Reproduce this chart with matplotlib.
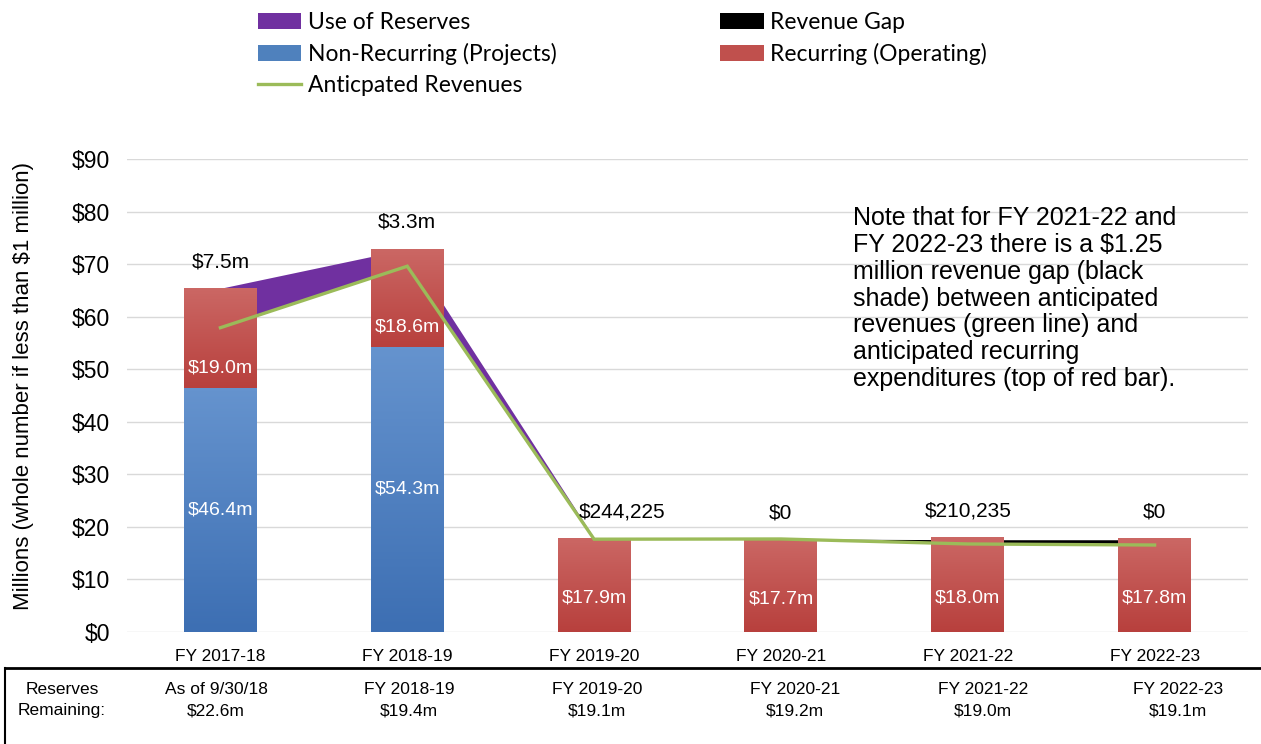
import numpy as np
import matplotlib
matplotlib.use('Agg')
import matplotlib.pyplot as plt
from matplotlib.patches import Patch
from matplotlib.lines import Line2D
from matplotlib.colors import LinearSegmentedColormap
from matplotlib import font_manager

# ---- Data ----
categories = ['FY 2017-18', 'FY 2018-19', 'FY 2019-20',
              'FY 2020-21', 'FY 2021-22', 'FY 2022-23']
non_recurring = [46.4, 54.3, 0.0, 0.0, 0.0, 0.0]
recurring = [19.0, 18.6, 17.9, 17.7, 18.0, 17.8]
revenues = [57.9, 69.6, 17.66, 17.7, 16.75, 16.55]
use_of_reserves = [7.5, 3.3, 0.244, 0.0, 0.21, 0.0]
revenue_gap = [0.0, 0.0, 0.0, 0.0, 0.6, 1.0]

recurring_labels = ['$19.0m', '$18.6m', '$17.9m', '$17.7m', '$18.0m', '$17.8m']
non_recurring_labels = ['$46.4m', '$54.3m', '', '', '', '']
top_labels = ['$7.5m', '$3.3m', '$244,225', '$0', '$210,235', '$0']

reserves_period = ['As of 9/30/18', 'FY 2018-19', 'FY 2019-20',
                   'FY 2020-21', 'FY 2021-22', 'FY 2022-23']
reserves_remaining = ['$22.6m', '$19.4m', '$19.1m', '$19.2m', '$19.0m', '$19.1m']

note = ('Note that for FY 2021-22 and\n'
        'FY 2022-23 there is a $1.25\n'
        'million revenue gap (black\n'
        'shade) between anticipated\n'
        'revenues (green line) and\n'
        'anticipated recurring\n'
        'expenditures (top of red bar).')

# ---- Fonts ----
_names = {f.name for f in font_manager.fontManager.ttflist}
MAIN = 'Liberation Sans'
NARROW = 'Liberation Sans Narrow' if 'Liberation Sans Narrow' in _names else MAIN
LEG = 'Lato' if 'Lato' in _names else MAIN
plt.rcParams['font.family'] = MAIN

# ---- Colours ----
PURPLE = '#7030A0'
GREEN = '#9BBB59'
red_cmap = LinearSegmentedColormap.from_list('r', ['#B8403D', '#CB6764'])
blue_cmap = LinearSegmentedColormap.from_list('b', ['#3D6FB3', '#6593CE'])

W, H = 1261, 744
fig = plt.figure(figsize=(W / 100, H / 100), dpi=100)
ax = fig.add_axes([127 / W, 1 - 632 / H, (1248 - 127) / W, (632 - 159) / H])

x = np.arange(len(categories))
rev = np.array(revenues)
res = np.array(use_of_reserves)
gap = np.array(revenue_gap)
nonrec = np.array(non_recurring)
rec = np.array(recurring)

# stacked areas behind the bars (base = anticipated revenues)
ax.fill_between(x, rev, rev + res, color=PURPLE, lw=0, zorder=2)
ax.fill_between(x, rev + res, rev + res + gap, color='black', lw=0, zorder=2)

width = 0.39
grad = np.linspace(0, 1, 64).reshape(-1, 1)


def gradient_bars(bars, cmap):
    for b in bars:
        if b.get_height() <= 0:
            continue
        x0, y0 = b.get_x(), b.get_y()
        im = ax.imshow(grad, extent=[x0, x0 + b.get_width(), y0, y0 + b.get_height()],
                       origin='lower', cmap=cmap, aspect='auto', zorder=3.5,
                       interpolation='bilinear')
        im.set_clip_path(b)


b_blue = ax.bar(x, nonrec, width, color='#4F81BD', zorder=3)
b_red = ax.bar(x, rec, width, bottom=nonrec, color='#C0504D', zorder=3)
gradient_bars(b_blue, blue_cmap)
gradient_bars(b_red, red_cmap)

ax.plot(x, rev, color=GREEN, lw=2.4, zorder=5, solid_joinstyle='miter')

# labels: inside bars and above the stacks
top_dx = {2: 20}
for i in range(len(x)):
    if non_recurring_labels[i]:
        ax.text(x[i], nonrec[i] / 2, non_recurring_labels[i], color='white',
                ha='center', va='center', fontsize=14, zorder=6)
        ry = nonrec[i] + rec[i] * 0.2
    else:
        ry = rec[i] * 0.36
    ax.text(x[i], ry, recurring_labels[i], color='white', ha='center',
            va='center', fontsize=14, zorder=6)
    top = max(nonrec[i] + rec[i], rev[i] + res[i] + gap[i])
    ax.annotate(top_labels[i], (x[i], top), xytext=(top_dx.get(i, 0), 19),
                textcoords='offset points', ha='center', va='center',
                fontsize=15, zorder=6)

ax.set_xlim(-0.5, len(x) - 0.5)
ax.set_ylim(0, 90)
ax.set_yticks(np.arange(0, 91, 10))
ax.set_yticklabels([f'${v}' for v in range(0, 91, 10)], fontsize=16.5)
ax.set_xticks(x)
ax.set_xticklabels(categories, fontsize=12.5)
ax.tick_params(axis='both', length=0)
ax.tick_params(axis='x', pad=12)
ax.tick_params(axis='y', pad=12)
ax.grid(axis='y', color='#D9D9D9', lw=1, zorder=0)
ax.set_axisbelow(True)
for s in ax.spines.values():
    s.set_visible(False)
ax.set_ylabel('Millions (whole number if less than $1 million)', fontsize=16)
ax.yaxis.set_label_coords((34 - 127) / 1121, 0.52)

ax.text(853 / W, 1 - 206 / H, note, transform=fig.transFigure, fontsize=18,
        va='top', ha='left', linespacing=1.15, zorder=7)

# legend
handles = [Patch(facecolor=PURPLE, label='Use of Reserves'),
           Patch(facecolor='#4F81BD', label='Non-Recurring (Projects)'),
           Line2D([], [], color=GREEN, lw=2.4, label='Anticpated Revenues'),
           Patch(facecolor='black', label='Revenue Gap'),
           Patch(facecolor='#C0504D', label='Recurring (Operating)')]
fig.legend(handles=handles, ncol=2, loc='upper left', bbox_to_anchor=(237 / W, 1 + 9 / H),
           frameon=False, prop={'family': LEG, 'size': 16.5}, handlelength=1.9,
           handleheight=0.7, handletextpad=0.28, columnspacing=7.15, labelspacing=0.45)

# reserves remaining box
fig.add_artist(Line2D([5 / W, 1], [1 - 668 / H] * 2, transform=fig.transFigure,
                      color='black', lw=2))
fig.add_artist(Line2D([5 / W] * 2, [0, 1 - 668 / H], transform=fig.transFigure,
                      color='black', lw=1.5))
fig.text(62 / W, 1 - 689 / H, 'Reserves', ha='center', va='center',
         fontsize=12.5, family=NARROW)
fig.text(62 / W, 1 - 711 / H, 'Remaining:', ha='center', va='center',
         fontsize=12.5, family=NARROW)
col_x = [216, 409, 597, 795, 983, 1178]
for cx, p, r in zip(col_x, reserves_period, reserves_remaining):
    fig.text(cx / W, 1 - 689 / H, p, ha='center', va='center', fontsize=12.5, family=NARROW)
    fig.text(cx / W, 1 - 711 / H, r, ha='center', va='center', fontsize=12.5, family=NARROW)

fig.savefig('out.png', dpi=100)
